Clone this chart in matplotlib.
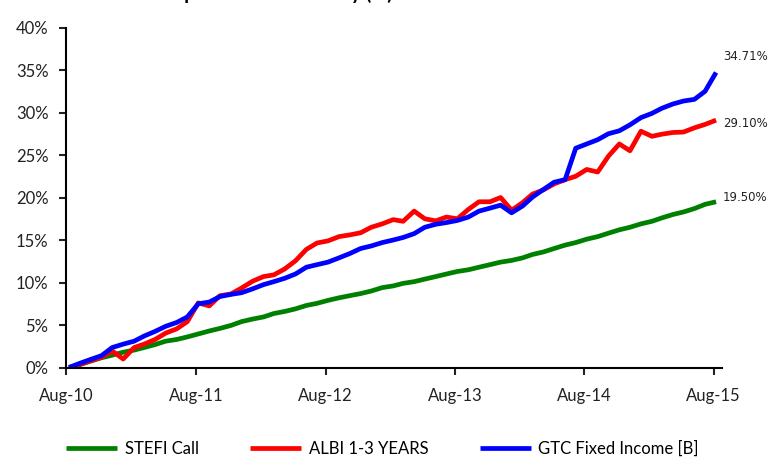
import matplotlib as mpl
mpl.use('Agg')
import matplotlib.pyplot as plt
import matplotlib.dates as mdates
import matplotlib.ticker as ticker
import pandas as pd

mpl.rcParams['font.family'] = ['Lato', 'DejaVu Sans']
mpl.rcParams['axes.unicode_minus'] = False

# cumulative return (%), monthly from Aug-10 to Aug-15
months = pd.date_range('2010-08-08', periods=61, freq=pd.DateOffset(months=1))

stefi_call = [0.0, 0.35, 0.75, 1.15, 1.45, 1.8, 2.05, 2.35, 2.7, 3.1,
              3.3, 3.6, 3.95, 4.3, 4.6, 4.95, 5.4, 5.7, 5.95, 6.35,
              6.6, 6.9, 7.3, 7.55, 7.9, 8.2, 8.45, 8.7, 9.0, 9.4,
              9.6, 9.9, 10.1, 10.4, 10.7, 11.0, 11.3, 11.5, 11.8, 12.1,
              12.4, 12.6, 12.9, 13.3, 13.6, 14.0, 14.4, 14.7, 15.1, 15.4,
              15.8, 16.2, 16.5, 16.9, 17.2, 17.6, 18.0, 18.3, 18.7, 19.2,
              19.50]

albi_1_3 = [0.0, 0.35, 0.8, 1.2, 1.95, 1.0, 2.35, 2.75, 3.3, 4.05,
            4.55, 5.4, 7.6, 7.25, 8.45, 8.65, 9.35, 10.15, 10.7, 10.9,
            11.6, 12.55, 13.9, 14.65, 14.9, 15.4, 15.6, 15.85, 16.5, 16.9,
            17.4, 17.2, 18.4, 17.5, 17.25, 17.7, 17.5, 18.6, 19.5, 19.5,
            20.0, 18.5, 19.4, 20.4, 20.9, 21.6, 22.1, 22.5, 23.3, 23.0,
            24.85, 26.3, 25.5, 27.8, 27.2, 27.45, 27.65, 27.7, 28.2, 28.6,
            29.10]

gtc_fixed = [0.0, 0.5, 0.95, 1.4, 2.35, 2.75, 3.1, 3.7, 4.25, 4.85,
             5.3, 5.95, 7.5, 7.7, 8.35, 8.6, 8.8, 9.25, 9.75, 10.1,
             10.5, 11.0, 11.8, 12.1, 12.4, 12.9, 13.4, 14.0, 14.3, 14.7,
             15.0, 15.3, 15.75, 16.5, 16.85, 17.05, 17.3, 17.7, 18.4, 18.75,
             19.1, 18.2, 19.0, 20.05, 20.95, 21.8, 22.1, 25.8, 26.3, 26.8,
             27.5, 27.85, 28.55, 29.4, 29.9, 30.5, 31.0, 31.35, 31.55, 32.5,
             34.71]

names = ['STEFI Call', 'ALBI 1-3 YEARS', 'GTC Fixed Income [B]']
colors = ['#008000', '#ff0000', '#0000ff']
# offsets (points) of the end-value labels
label_offsets = [(5, 3), (5, -2.2), (5, 11.3)]

fig = plt.figure(figsize=(7.72, 4.57), dpi=100)
ax = fig.add_axes([0.0861, 0.1958, 0.9349 - 0.0861, 0.9398 - 0.1958])

series = [stefi_call, albi_1_3, gtc_fixed]
for vals, name, c, off in zip(series, names, colors, label_offsets):
    ax.plot(months, vals, '-', color=c, lw=3.4, label=name, solid_capstyle='butt')
    ax.annotate('%0.2f%%' % vals[-1], xy=(months[-1], vals[-1]), xytext=off,
                textcoords='offset points', ha='left', va='center',
                fontsize=8.5, family='DejaVu Sans', color='#222222',
                annotation_clip=False)

ax.set_ylim([0, 40])
ax.yaxis.set_major_locator(ticker.MultipleLocator(5))
ax.yaxis.set_major_formatter(ticker.FuncFormatter(lambda v, p: '%d%%' % v))

ax.set_xlim([pd.Timestamp('2010-08-01'), pd.Timestamp('2015-08-24')])
ax.xaxis.set_major_locator(mdates.MonthLocator(bymonth=8, bymonthday=1))
ax.xaxis.set_major_formatter(mdates.DateFormatter('%b-%y'))

for side in ['top', 'right']:
    ax.spines[side].set_visible(False)
for side in ['left', 'bottom']:
    ax.spines[side].set_linewidth(1.5)
    ax.spines[side].set_color('black')

ax.tick_params(axis='y', which='major', length=5, width=1.5, pad=8, labelsize=12, colors='#222222')
ax.tick_params(axis='x', which='major', length=5, width=1.5, pad=10, labelsize=12, colors='#222222')

# chart title sits mostly above the top edge
fig.text(80 / 772, 1.0, 'Cumulative performance history (%)', fontsize=14,
         fontweight='bold', va='baseline', ha='left')

fig.legend(loc='center', bbox_to_anchor=(0.4955, 0.018), ncol=3, frameon=False,
           fontsize=12, handlelength=3.05, handletextpad=0.45, columnspacing=3.1)

fig.savefig('out.png', dpi=100)
